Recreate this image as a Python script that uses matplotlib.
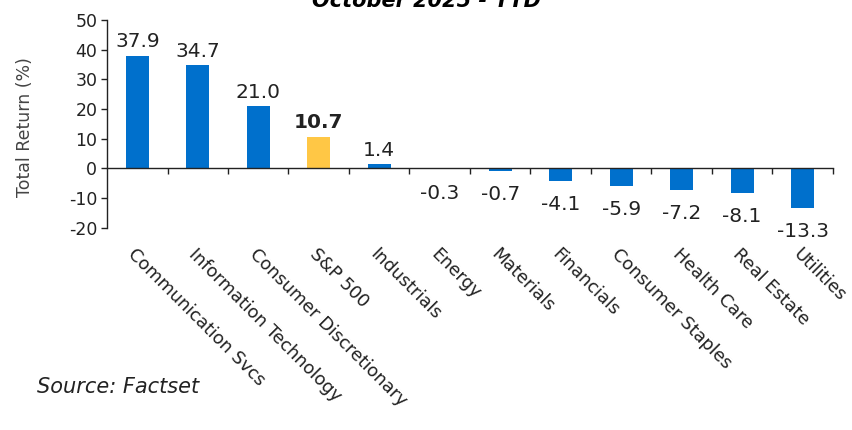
import numpy as np
import matplotlib.pyplot as plt
from matplotlib.transforms import blended_transform_factory

sectors = ["Communication Svcs", "Information Technology", "Consumer Discretionary",
           "S&P 500", "Industrials", "Energy", "Materials", "Financials",
           "Consumer Staples", "Health Care", "Real Estate", "Utilities"]
returns = [37.9, 34.7, 21.0, 10.7, 1.4, -0.3, -0.7, -4.1, -5.9, -7.2, -8.1, -13.3]
highlight = "S&P 500"

BLUE = "#0070CC"
GOLD = "#FFC745"

plt.rcParams["font.family"] = ["DejaVu Sans"]
plt.rcParams["axes.unicode_minus"] = False

fig = plt.figure(figsize=(8.52, 4.30), dpi=100)
ax = fig.add_axes([0.1256, 0.470, 0.852, 0.4835])

x = np.arange(len(sectors))
colors = [GOLD if s == highlight else BLUE for s in sectors]
ax.bar(x, returns, width=0.38, color=colors, zorder=2)

ax.set_xlim(-0.5, len(sectors) - 0.5)
ax.set_ylim(-20, 50)
ax.set_yticks(np.arange(-20, 51, 10))
ax.tick_params(axis="y", direction="out", length=4, width=1, labelsize=12.5,
               colors="#222222", pad=3)

# x axis sits on zero, ticks between categories
ax.spines["bottom"].set_position(("data", 0))
ax.spines["top"].set_visible(False)
ax.spines["right"].set_visible(False)
for sp in ("left", "bottom"):
    ax.spines[sp].set_color("#222222")
    ax.spines[sp].set_linewidth(1)
ax.set_xticks(x + 0.5)
ax.set_xticklabels([])
ax.tick_params(axis="x", direction="out", length=4, width=1, colors="#222222")

# value labels
for xi, v, s in zip(x, returns, sectors):
    weight = "bold" if s == highlight else "normal"
    if v >= 0:
        ax.text(xi, v + 1.5, f"{v:.1f}", ha="center", va="bottom",
                fontsize=14.5, fontweight=weight, color="#222222")
    else:
        ax.text(xi, v - 4.8, f"{v:.1f}", ha="center", va="top",
                fontsize=14.5, fontweight=weight, color="#222222", clip_on=False)

# category labels below the plot area
trans = blended_transform_factory(ax.transData, ax.transAxes)
for xi, s in zip(x, sectors):
    ax.text(xi, -0.085, s, transform=trans, rotation=-45,
            rotation_mode="anchor", ha="left", va="top", fontsize=12.8,
            color="#222222")

fig.text(25 / 852, 0.705, "Total Return (%)", rotation=90, ha="center",
         va="center", fontsize=12.5, color="#444444")

fig.text(0.5, 0.984, "October 2025 - YTD", ha="center", va="baseline",
         fontsize=15, fontweight="bold", fontstyle="italic")
fig.text(0.043, 0.1, "Source: Factset", fontsize=15, fontstyle="italic",
         color="#222222", va="center")

fig.savefig("out.png", dpi=100)
